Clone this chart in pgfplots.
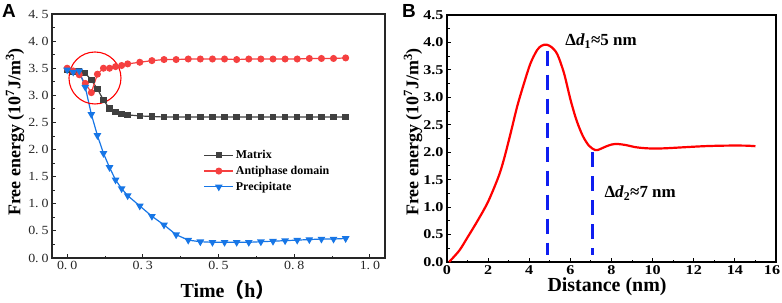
\documentclass[border=0pt]{standalone}
\usepackage{fontspec}
\usepackage{graphicx}
\setmainfont{Liberation Serif}
\newfontfamily\sansf{Liberation Sans}
\newfontfamily\cjk{Noto Sans CJK SC}
\usepackage{pgfplots}
\pgfplotsset{compat=1.18}
\definecolor{matgray}{RGB}{64,64,64}
\definecolor{apdred}{RGB}{245,64,64}
\definecolor{ppblue}{RGB}{23,118,230}
\definecolor{curvered}{RGB}{255,0,0}
\definecolor{dashblue}{RGB}{15,30,240}
\newcommand\tla[1]{\scalebox{1.12}[1]{#1}}
\newcommand\tlb[1]{\scalebox{1.2}[1]{#1}}
\begin{document}
\begin{tikzpicture}[x=1bp,y=1bp]
\useasboundingbox (0,0) rectangle (782,302);
% ---------------- Panel A ----------------
\begin{axis}[
  at={(52bp,44bp)}, anchor=south west, scale only axis,
  width=333bp, height=244bp,
  xmin=-0.05, xmax=1.05, ymin=0, ymax=4.5,
  xtick={0,0.25,0.5,0.75,1},
  xticklabels={\tla{0.\hspace{0.2em}0},\tla{0.\hspace{0.2em}3},\tla{0.\hspace{0.2em}5},\tla{0.\hspace{0.2em}8},\tla{1.\hspace{0.2em}0}},
  ytick={0,0.5,1,1.5,2,2.5,3,3.5,4,4.5},
  yticklabels={\tla{0.\hspace{0.2em}0},\tla{0.\hspace{0.2em}5},\tla{1.\hspace{0.2em}0},\tla{1.\hspace{0.2em}5},\tla{2.\hspace{0.2em}0},\tla{2.\hspace{0.2em}5},\tla{3.\hspace{0.2em}0},\tla{3.\hspace{0.2em}5},\tla{4.\hspace{0.2em}0},\tla{4.\hspace{0.2em}5}},
  minor x tick num=1, minor y tick num=1,
  tick align=inside, tick pos=left,
  major tick length=4bp, minor tick length=2.5bp,
  axis line style={line width=1.1pt, black!85},
  every tick/.style={black!85, line width=0.8pt},
  ticklabel style={font=\fontsize{12.5}{12.5}\selectfont, text=black!85},
  legend style={at={(0.455,0.45)}, anchor=north west, draw=none, fill=none,
    font=\bfseries\fontsize{12}{12}\selectfont, row sep=2bp, inner sep=0pt,
    cells={anchor=west}},
  legend image code/.code={\draw[mark repeat=2,mark phase=2,#1] plot coordinates {(0bp,0bp) (14.5bp,0bp) (29bp,0bp)};},
]
\addplot[matgray, line width=1.2pt, mark=square*, mark size=2.6bp] coordinates {
(0,3.47) (0.02,3.44) (0.04,3.44) (0.06,3.41) (0.08,3.28) (0.10,3.12) (0.12,2.91)
(0.14,2.76) (0.16,2.69) (0.18,2.66) (0.20,2.64) (0.24,2.62) (0.28,2.61) (0.32,2.60)
(0.36,2.60) (0.40,2.60) (0.44,2.60) (0.48,2.60) (0.52,2.60) (0.56,2.60) (0.60,2.60)
(0.64,2.60) (0.68,2.60) (0.72,2.60) (0.76,2.60) (0.80,2.60) (0.84,2.60) (0.88,2.60) (0.92,2.60)};
\addlegendentry{Matrix}
\addplot[apdred, line width=1.2pt, mark=*, mark size=2.9bp] coordinates {
(0,3.50) (0.02,3.45) (0.04,3.38) (0.06,3.22) (0.08,3.05) (0.10,3.39) (0.12,3.50)
(0.14,3.50) (0.16,3.53) (0.18,3.55) (0.20,3.58) (0.24,3.61) (0.28,3.64) (0.32,3.66)
(0.36,3.66) (0.40,3.67) (0.44,3.67) (0.48,3.67) (0.52,3.67) (0.56,3.66) (0.60,3.67)
(0.64,3.67) (0.68,3.67) (0.72,3.67) (0.76,3.67) (0.80,3.68) (0.84,3.68) (0.88,3.68) (0.92,3.69)};
\addlegendentry{Antiphase domain}
\addplot[ppblue, line width=1.2pt, mark=triangle*, mark size=3.3bp, mark options={rotate=180}] coordinates {
(0,3.47) (0.02,3.43) (0.04,3.45) (0.06,3.15) (0.08,2.65) (0.10,2.26) (0.12,1.93)
(0.14,1.67) (0.16,1.44) (0.18,1.28) (0.20,1.15) (0.24,0.96) (0.28,0.77) (0.32,0.61)
(0.36,0.43) (0.40,0.33) (0.44,0.30) (0.48,0.29) (0.52,0.29) (0.56,0.29) (0.60,0.29)
(0.64,0.30) (0.68,0.31) (0.72,0.32) (0.76,0.33) (0.80,0.34) (0.84,0.35) (0.88,0.35) (0.92,0.36)};
\addlegendentry{Precipitate}
\draw[red, line width=1.1pt] (axis cs:0.092,3.32) circle[radius=26bp];
\end{axis}
% ---------------- Panel B ----------------
\begin{axis}[
  at={(447bp,40bp)}, anchor=south west, scale only axis,
  width=329bp, height=247bp,
  xmin=0, xmax=16, ymin=0, ymax=4.5,
  xtick={0,2,4,6,8,10,12,14,16},
  xticklabels={\tlb{0},\tlb{2},\tlb{4},\tlb{6},\tlb{8},\tlb{10},\tlb{12},\tlb{14},\hspace*{-8bp}\tlb{16}},
  ytick={0,0.5,1,1.5,2,2.5,3,3.5,4,4.5},
  yticklabels={\tlb{0.0},\tlb{0.5},\tlb{1.0},\tlb{1.5},\tlb{2.0},\tlb{2.5},\tlb{3.0},\tlb{3.5},\tlb{4.0},\tlb{4.5}},
  minor x tick num=1, minor y tick num=1,
  tick align=inside, tick pos=left,
  major tick length=4bp, minor tick length=2.5bp,
  axis line style={line width=1.6pt, black},
  every tick/.style={black, line width=1pt},
  ticklabel style={font=\bfseries\fontsize{13.5}{13.5}\selectfont},
]
\addplot[curvered, line width=2.2bp, smooth, tension=0.5] coordinates {
(0.1,0) (0.6,0.21) (1.0,0.45) (1.5,0.76) (2.0,1.10) (2.5,1.55) (2.76,1.86) (3.09,2.34)
(3.41,2.83) (3.74,3.25) (4.06,3.62) (4.38,3.86) (4.6,3.94) (4.84,3.96) (5.1,3.91)
(5.37,3.78) (5.69,3.44) (6.01,2.95) (6.3,2.58) (6.6,2.30) (6.9,2.12) (7.2,2.04)
(7.4,2.05) (7.7,2.10) (8.0,2.14) (8.3,2.15) (8.7,2.13) (9.2,2.09) (9.8,2.07)
(10.5,2.07) (11.5,2.09) (12.5,2.11) (13.5,2.12) (14.5,2.12) (15,2.11)};
\addplot[dashblue, line width=3.2bp, dash pattern=on 15bp off 9bp] coordinates {(4.9,3.85) (4.9,0.12)};
\addplot[dashblue, line width=3.2bp, dash pattern=on 15bp off 9bp] coordinates {(7.06,2.0) (7.06,0.12)};
\node[anchor=west, font=\bfseries\fontsize{17}{17}\selectfont, inner sep=0pt] at (axis cs:5.75,4.02) {Δ\textit{d}\textsubscript{1}≈5 nm};
\node[anchor=west, font=\bfseries\fontsize{17}{17}\selectfont, inner sep=0pt] at (axis cs:7.65,1.25) {Δ\textit{d}\textsubscript{2}≈7 nm};
\end{axis}
% ---------------- Labels ----------------
\node[rotate=90, font=\bfseries\fontsize{18}{18}\selectfont] at (15,170) {Free energy (10\textsuperscript{7}J/m\textsuperscript{3})};
\node[font=\bfseries\fontsize{20}{20}\selectfont] at (228,12) {Time{\cjk （}h{\cjk ）}};
\node[rotate=90, font=\bfseries\fontsize{18}{18}\selectfont] at (413,170) {Free energy (10\textsuperscript{7}J/m\textsuperscript{3})};
\node[font=\bfseries\fontsize{20}{20}\selectfont] at (607,15) {Distance (nm)};
\node[font=\sansf\bfseries\fontsize{19}{19}\selectfont] at (9,291) {A};
\node[font=\sansf\bfseries\fontsize{19}{19}\selectfont] at (409,291) {B};
\end{tikzpicture}
\end{document}
